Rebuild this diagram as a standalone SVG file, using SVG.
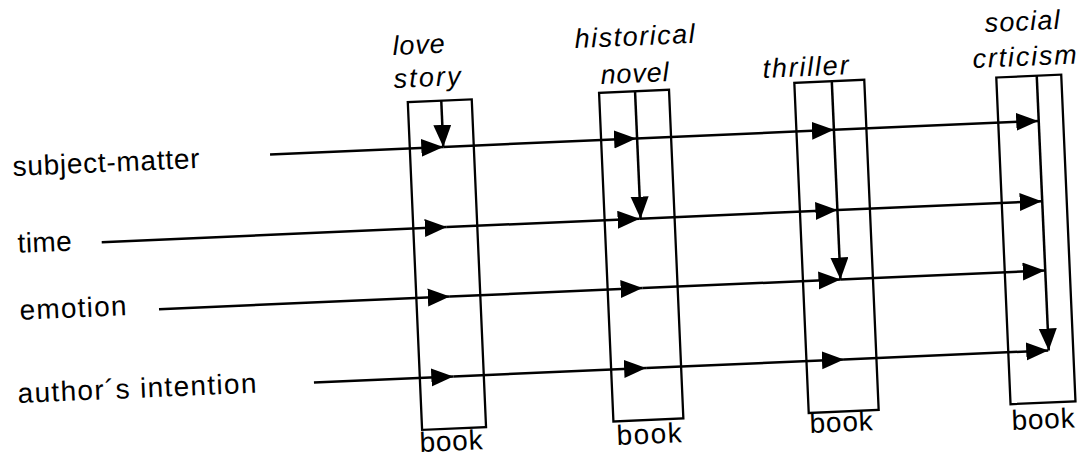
<svg xmlns="http://www.w3.org/2000/svg" width="1083" height="459" viewBox="0 0 1083 459">
  <style>
    .lbl { font-family: "Liberation Sans", Arial, sans-serif; font-size: 28px; fill: #000; }
    .genre { font-family: "Liberation Sans", Arial, sans-serif; font-size: 27px; font-style: italic; fill: #000; }
    .book { font-family: "Liberation Sans", Arial, sans-serif; font-size: 28px; fill: #000; }
    .box { fill: none; stroke: #000; stroke-width: 2.3; }
    .conn { fill: none; stroke: #000; stroke-width: 2.5; marker-end: url(#ah); }
  </style>
  <defs>
    <marker id="ah" markerUnits="userSpaceOnUse" markerWidth="24" markerHeight="20" refX="22" refY="9" orient="auto">
      <path d="M0,0 L22,9 L0,18 Z" fill="#000"/>
    </marker>
  </defs>
  <rect width="1083" height="459" fill="#fff"/>
  <g transform="rotate(-2.5 541 230)">
    <g id="row-subject-matter"><text class="lbl" x="15.8" y="153" textLength="187" lengthAdjust="spacing">subject-matter</text></g>
    <g id="row-time"><text class="lbl" x="17.5" y="230" textLength="54" lengthAdjust="spacing">time</text></g>
    <g id="row-emotion"><text class="lbl" x="16.6" y="297" textLength="107" lengthAdjust="spacing">emotion</text></g>
    <g id="row-authors-intention"><text class="lbl" x="11" y="380" textLength="239" lengthAdjust="spacing">author´s intention</text></g>

    <g id="book-love-story">
      <text class="genre" x="400.8" y="48.7" textLength="52" lengthAdjust="spacing">love</text>
      <text class="genre" x="400.3" y="81.7" textLength="67" lengthAdjust="spacing">story</text>
      <rect class="box" x="413.5" y="96.5" width="64" height="328"/>
      <text class="book" x="410.4" y="446.5" textLength="63" lengthAdjust="spacing">book</text>
    </g>
    <g id="book-historical-novel">
      <text class="genre" x="582.9" y="49.7" textLength="120" lengthAdjust="spacing">historical</text>
      <text class="genre" x="607.3" y="86.8" textLength="68" lengthAdjust="spacing">novel</text>
      <rect class="box" x="605" y="95.5" width="70" height="329"/>
      <text class="book" x="607.5" y="448.1" textLength="65" lengthAdjust="spacing">book</text>
    </g>
    <g id="book-thriller">
      <text class="genre" x="769.4" y="87.8" textLength="86" lengthAdjust="spacing">thriller</text>
      <rect class="box" x="800.5" y="94" width="70" height="330.5"/>
      <text class="book" x="800.9" y="444.5" textLength="63" lengthAdjust="spacing">book</text>
    </g>
    <g id="book-social-criticism">
      <text class="genre" x="993.2" y="51.6" textLength="75" lengthAdjust="spacing">social</text>
      <text class="genre" x="979.7" y="87" textLength="104" lengthAdjust="spacing">crticism</text>
      <rect class="box" x="1002.5" y="97.5" width="65" height="327"/>
      <text class="book" x="1002.8" y="450.4" textLength="63" lengthAdjust="spacing">book</text>
    </g>

    <g id="connectors">
      <line class="conn" x1="273.6" y1="142.7" x2="447" y2="142.7"/>
      <line class="conn" x1="447" y1="142.7" x2="640" y2="142.7"/>
      <line class="conn" x1="640" y1="142.7" x2="838" y2="142.7"/>
      <line class="conn" x1="838" y1="142.7" x2="1042.5" y2="142.7"/>

      <line class="conn" x1="101.6" y1="223" x2="447" y2="223"/>
      <line class="conn" x1="447" y1="223" x2="640" y2="223"/>
      <line class="conn" x1="640" y1="223" x2="838" y2="223"/>
      <line class="conn" x1="838" y1="223" x2="1042.5" y2="223"/>

      <line class="conn" x1="155.9" y1="292.5" x2="447" y2="292.5"/>
      <line class="conn" x1="447" y1="292.5" x2="640" y2="292.5"/>
      <line class="conn" x1="640" y1="292.5" x2="838" y2="292.5"/>
      <line class="conn" x1="838" y1="292.5" x2="1042.5" y2="292.5"/>

      <line class="conn" x1="307.5" y1="372.5" x2="447" y2="372.5"/>
      <line class="conn" x1="447" y1="372.5" x2="640" y2="372.5"/>
      <line class="conn" x1="640" y1="372.5" x2="838" y2="372.5"/>
      <line class="conn" x1="838" y1="372.5" x2="1042.5" y2="372.5"/>

      <line class="conn" x1="447" y1="96.5" x2="447" y2="142.7"/>
      <line class="conn" x1="641" y1="95.5" x2="641" y2="223"/>
      <line class="conn" x1="838" y1="94" x2="838" y2="292.5"/>
      <line class="conn" x1="1043" y1="97.5" x2="1043" y2="372.5"/>
    </g>
  </g>
</svg>
